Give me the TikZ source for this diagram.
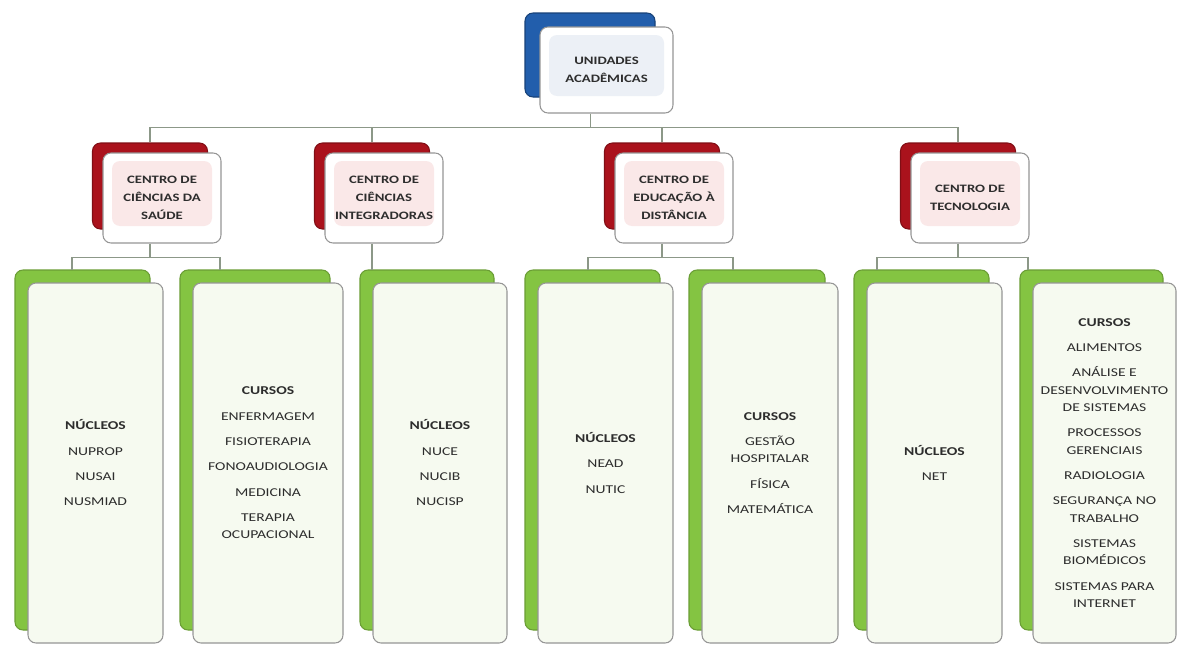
\documentclass[tikz,border=0pt]{standalone}
\usepackage{fontspec}
\setmainfont{Carlito}[FakeStretch=1.3]
\usepackage{tikz}
\usetikzlibrary{positioning,calc}
\newcommand{\pxu}{0.75pt}
\definecolor{topblue}{RGB}{34,94,172}
\definecolor{toptint}{RGB}{236,240,246}
\definecolor{centrored}{RGB}{170,18,28}
\definecolor{centrotint}{RGB}{250,232,232}
\definecolor{cursogreen}{RGB}{132,196,66}
\definecolor{cursotint}{RGB}{246,250,240}
\definecolor{boxline}{RGB}{150,150,150}
\definecolor{linkgray}{RGB}{140,152,136}
\definecolor{textgray}{RGB}{45,45,45}
\tikzset{
    frontbox/.style={draw=boxline, line width=0.8pt, rounded corners=6pt, fill=white, inner sep=0pt, align=center, text=textgray},
    backbox/.style={rounded corners=6pt, inner sep=0pt, line width=0.8pt},
    tint/.style={path picture={\fill[#1] ([shift={(9,8)}]path picture bounding box.north west) rectangle ([shift={(-9,-17)}]path picture bounding box.south east);}},
    centroback/.style={backbox, fill=centrored, draw=centrored!75!black, minimum width=115*\pxu, minimum height=86*\pxu},
    centro/.style={frontbox, tint=centrotint, minimum width=118*\pxu, minimum height=90*\pxu, font=\bfseries\fontsize{8.5}{13.5}\selectfont},
    gback/.style={backbox, fill=cursogreen, draw=cursogreen!80!black, minimum height=360*\pxu},
    gfront/.style={frontbox, fill=cursotint, minimum height=360*\pxu, font=\fontsize{9}{13}\selectfont},
    link/.style={draw=linkgray, line width=1.4pt}
}

\begin{document}
\begin{tikzpicture}[x=0.75pt, y=-0.75pt]
    \fill[white] (0,0) rectangle (1179,646);
    \useasboundingbox (0,0) rectangle (1179,646);

    % Unidades academicas
    \node[backbox, fill=topblue, draw=topblue!70!black, minimum width=130*\pxu, minimum height=84*\pxu] (top-bk) at (590,55) {};
    \node[frontbox, tint=toptint, minimum width=133*\pxu, minimum height=86*\pxu, font=\bfseries\fontsize{8.5}{13.5}\selectfont] (top) at (606.5,70) {UNIDADES\\ACADÊMICAS};

    % Centros
    \foreach \name/\cx/\txt in {ccs/162/{CENTRO DE\\CIÊNCIAS DA\\SAÚDE},
                                cci/384/{CENTRO DE\\CIÊNCIAS\\INTEGRADORAS},
                                ced/674/{CENTRO DE\\EDUCAÇÃO À\\DISTÂNCIA},
                                ct/970/{CENTRO DE\\TECNOLOGIA}} {
        \node[centroback] (\name-bk) at (\cx-12,186) {};
        \node[centro] (\name) at (\cx,198) {\txt};
    }

    % Nucleos e cursos
    \foreach \name/\cx/\bw/\jx/\txt in {
        g1/95.5/135/72/{\textbf{NÚCLEOS}\\[6pt]NUPROP\\[6pt]NUSAI\\[6pt]NUSMIAD},
        g2/268/150/220/{\textbf{CURSOS}\\[6pt]ENFERMAGEM\\[6pt]FISIOTERAPIA\\[6pt]FONOAUDIOLOGIA\\[6pt]MEDICINA\\[6pt]TERAPIA\\OCUPACIONAL},
        g3/440/134/372/{\textbf{NÚCLEOS}\\[6pt]NUCE\\[6pt]NUCIB\\[6pt]NUCISP},
        g4/605.5/135/588/{\textbf{NÚCLEOS}\\[6pt]NEAD\\[6pt]NUTIC},
        g5/770/136/733/{\textbf{CURSOS}\\[6pt]GESTÃO\\HOSPITALAR\\[6pt]FÍSICA\\[6pt]MATEMÁTICA},
        g6/934.5/135/877/{\textbf{NÚCLEOS}\\[6pt]NET},
        g7/1104.5/143/1028/{\textbf{CURSOS}\\[6pt]ALIMENTOS\\[6pt]ANÁLISE E\\DESENVOLVIMENTO\\DE SISTEMAS\\[6pt]PROCESSOS\\GERENCIAIS\\[6pt]RADIOLOGIA\\[6pt]SEGURANÇA NO\\TRABALHO\\[6pt]SISTEMAS\\BIOMÉDICOS\\[6pt]SISTEMAS PARA\\INTERNET}} {
        \node[gback, minimum width=\bw*\pxu] (\name-bk) at (\cx-13,450) {};
        \node[gfront, minimum width=\bw*\pxu] (\name) at (\cx,463) {\txt};
        \coordinate (\name-t) at (\jx,270);
    }

    % Ligacoes
    \draw[link] ([shift={(-16,0)}]top.south) -- ++(0,14) coordinate (bus0);
    \draw[link] (ccs-bk.north) |- (bus0) -| (ct-bk.north);
    \draw[link] (cci-bk.north) -- (cci-bk.north |- bus0);
    \draw[link] (ced-bk.north) -- (ced-bk.north |- bus0);

    \draw[link] (ccs.south -| ccs-bk.north) -- ++(0,14) coordinate (busA);
    \draw[link] (g1-t) |- (busA) -| (g2-t);
    \draw[link] (cci.south -| cci-bk.north) -- (g3-t);
    \draw[link] (ced.south -| ced-bk.north) -- ++(0,14) coordinate (busB);
    \draw[link] (g4-t) |- (busB) -| (g5-t);
    \draw[link] (ct.south -| ct-bk.north) -- ++(0,14) coordinate (busC);
    \draw[link] (g6-t) |- (busC) -| (g7-t);
\end{tikzpicture}
\end{document}
